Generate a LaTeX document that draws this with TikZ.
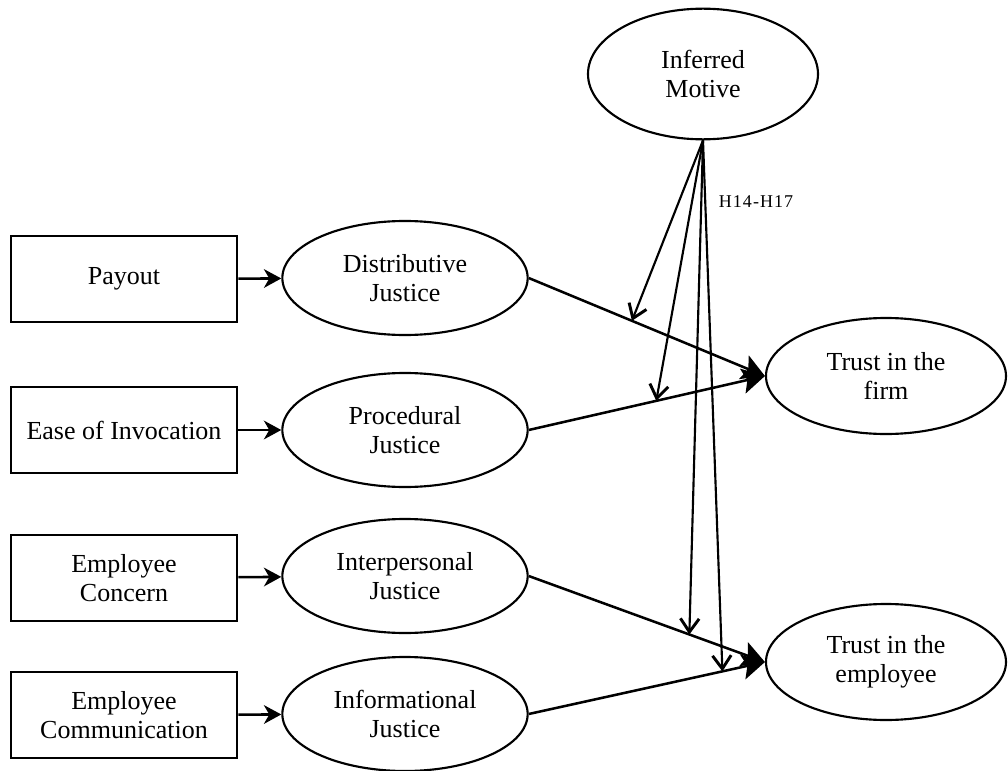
\documentclass[tikz,border=0pt]{standalone}
\usepackage{fontspec}
\setmainfont{Liberation Serif}
\usetikzlibrary{shapes.geometric,arrows.meta}

\begin{document}
\begin{tikzpicture}[x=0.75pt,y=-0.75pt,
  every node/.style={font=\fontsize{19.5}{21.5}\selectfont, align=center, inner sep=0pt},
  inbox/.style={draw, line width=1.6pt, minimum width=170pt, minimum height=64pt},
  justice/.style={draw, ellipse, line width=1.6pt, minimum width=184pt, minimum height=85.5pt},
  trust/.style={draw, ellipse, line width=1.6pt, minimum width=180pt, minimum height=87pt},
  motive/.style={draw, ellipse, line width=1.6pt, minimum width=172.5pt, minimum height=98pt},
  feed/.style={line width=1.9pt, -{Stealth[length=13pt,width=14pt,inset=4pt]}},
  path/.style={line width=1.9pt, -{Stealth[length=17pt,width=19pt,inset=3.5pt]}},
  moderates/.style={line width=1.6pt, -{Straight Barb[length=10pt,width=14pt,line width=2.2pt]}},
  hyp/.style={font=\fontsize{13.5}{15}\selectfont\addfontfeatures{LetterSpace=6}}
]
\path[use as bounding box] (0,0) rectangle (1008,771);

% antecedents
\node[inbox] (pay)  at (124,279) {Payout};
\node[inbox] (ease) at (124,430) {Ease of Invocation};
\node[inbox] (conc) at (124,578) {Employee\\Concern};
\node[inbox] (comm) at (124,715) {Employee\\Communication};

% justice perceptions
\node[justice] (dj) at (405,278) {Distributive\\Justice};
\node[justice] (pj) at (405,430) {Procedural\\Justice};
\node[justice] (ipj) at (405,576) {Interpersonal\\Justice};
\node[justice] (ifj) at (405,714) {Informational\\Justice};

% outcomes and moderator
\node[trust] (tf) at (886,376) {Trust in the\\firm};
\node[trust] (te) at (886,662) {Trust in the\\employee};
\node[motive] (im) at (703,74) {Inferred\\Motive};
\node[hyp] (h) at (756,202) {H14-H17};

% antecedent -> justice
\draw[feed] (pay) -- (dj);
\draw[feed] (ease) -- (pj);
\draw[feed] (conc) -- (ipj);
\draw[feed] (comm) -- (ifj);

% justice -> trust, with moderation points on each path
\draw[path] (dj.east) -- (tf.west) coordinate[pos=0.437] (m1);
\draw[path] (pj.east) -- (tf.west) coordinate[pos=0.54] (m2);
\draw[path] (ipj.east) -- (te.west) coordinate[pos=0.68] (m3);
\draw[path] (ifj.east) -- (te.west) coordinate[pos=0.82] (m4);

% inferred motive moderates each path
\draw[moderates] (im.south) -- (m1);
\draw[moderates] (im.south) -- (m2);
\draw[moderates] (im.south) -- (m3);
\draw[moderates] (im.south) -- (m4);
\end{tikzpicture}
\end{document}
